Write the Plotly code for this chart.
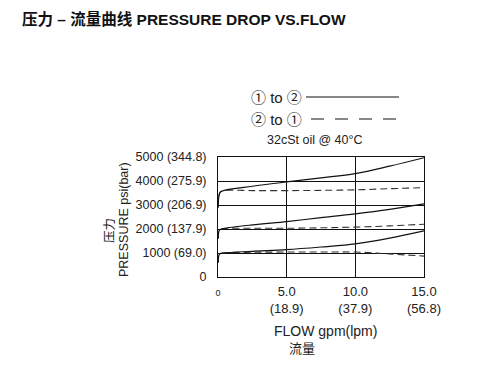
import plotly.graph_objects as go

# ---------------- data ----------------
flow = [0.02, 0.06, 0.15, 0.4, 2.5, 5.0, 7.5, 10.0, 12.5, 15.0]

high_1to2 = [2900, 3350, 3530, 3600, 3780, 3960, 4130, 4310, 4620, 4970]
high_2to1 = [2900, 3350, 3530, 3600, 3600, 3600, 3610, 3630, 3680, 3720]
mid_1to2 = [1600, 1900, 1980, 2020, 2170, 2310, 2470, 2630, 2820, 3050]
mid_2to1 = [1600, 1900, 1980, 2020, 2030, 2030, 2050, 2080, 2130, 2200]
low_1to2 = [600, 900, 970, 1000, 1070, 1140, 1250, 1380, 1620, 1920]
low_2to1 = [600, 900, 970, 1000, 1030, 1040, 1040, 1040, 960, 870]

y_tickvals = [0, 1000, 2000, 3000, 4000, 5000]
y_ticktext = ["0", "1000 (69.0)", "2000 (137.9)", "3000 (206.9)", "4000 (275.9)", "5000 (344.8)"]
x_tickvals = [0, 5, 10, 15]
x_ticktext = ["<span style='font-size:9px'>0</span>", "5.0<br>(18.9)", "10.0<br>(37.9)", "15.0<br>(56.8)"]

title_text = "压力 – 流量曲线 PRESSURE DROP VS.FLOW"
legend_solid = "① to ②"
legend_dash = "② to ①"
oil_note = "32cSt oil @ 40°C"
x_title_en = "FLOW gpm(lpm)"
x_title_cn = "流量"
y_title_en = "PRESSURE psi(bar)"
y_title_cn = "压力"

FONT = "Liberation Sans, Arial, Noto Sans CJK SC, sans-serif"
OFF = 8  # page body margin
W, H = 491 - 2 * OFF, 370 - 2 * OFF
L, R, T, B = 218 - OFF, 424 - OFF, 157 - OFF, 277 - OFF  # plot area px (figure coords)


def px(xp):
    return (xp - OFF - L) / (R - L)


def py(yp):
    return (B - (yp - OFF)) / (B - T)


fig = go.Figure()
solid = dict(color="#111111", width=1.2)
dashed = dict(color="#333333", width=1.1, dash="7px,4px")
for ys in (high_2to1, mid_2to1, low_2to1):
    fig.add_trace(go.Scatter(x=flow, y=ys, mode="lines", line=dashed, line_shape="spline",
                             showlegend=False, hoverinfo="skip"))
for ys in (high_1to2, mid_1to2, low_1to2):
    fig.add_trace(go.Scatter(x=flow, y=ys, mode="lines", line=solid, line_shape="spline",
                             showlegend=False, hoverinfo="skip"))

fig.update_layout(
    width=W, height=H,
    margin=dict(l=L, r=W - R, t=T, b=H - B),
    paper_bgcolor="white", plot_bgcolor="white",
    font=dict(family=FONT, color="#222222"),
    showlegend=False,
    title=dict(text="<b>" + title_text + "</b>", x=(22 - OFF) / W, xanchor="left",
               y=1 - (20 - OFF) / H, yanchor="middle", font=dict(size=15.5, color="#111111")),
)
fig.update_xaxes(range=[0, 15], tickvals=x_tickvals, ticktext=x_ticktext,
                 showgrid=True, gridcolor="#111111", gridwidth=1,
                 showline=True, linecolor="#111111", linewidth=1, mirror=True,
                 zeroline=False, ticks="", ticklabelstandoff=2,
                 tickfont=dict(size=13, color="#222222"))
fig.update_yaxes(range=[0, 5000], tickvals=y_tickvals, ticktext=y_ticktext,
                 showgrid=True, gridcolor="#111111", gridwidth=1,
                 showline=True, linecolor="#111111", linewidth=1, mirror=True,
                 zeroline=False, ticks="", ticklabelstandoff=8,
                 tickfont=dict(size=12.5, color="#222222"))

ann = []
ann.append(dict(x=px(276), y=py(97), text=legend_solid, font=dict(size=15, color="#222222")))
ann.append(dict(x=px(276), y=py(119), text=legend_dash, font=dict(size=15, color="#222222")))
ann.append(dict(x=px(315), y=py(140), text=oil_note, font=dict(size=12.5, color="#222222")))
ann.append(dict(x=px(325), y=py(331), text=x_title_en, font=dict(size=14, color="#222222")))
ann.append(dict(x=px(302), y=py(348), text=x_title_cn, font=dict(size=13, color="#222222")))
ann.append(dict(x=px(124), y=py(220), text=y_title_en, textangle=-90, font=dict(size=12.5, color="#222222")))
ann.append(dict(x=px(110), y=py(231), text=y_title_cn, textangle=-90, font=dict(size=12.5, color="#222222")))
for a in ann:
    a.update(xref="paper", yref="paper", showarrow=False, xanchor="center", yanchor="middle")
fig.update_layout(annotations=ann)

fig.add_shape(type="line", xref="paper", yref="paper", x0=px(306), x1=px(399), y0=py(97), y1=py(97),
              line=dict(color="#111111", width=1.2))
fig.add_shape(type="line", xref="paper", yref="paper", x0=px(311), x1=px(397), y0=py(119), y1=py(119),
              line=dict(color="#111111", width=1.2, dash="13px,11px"))

fig.write_html("out.html")
